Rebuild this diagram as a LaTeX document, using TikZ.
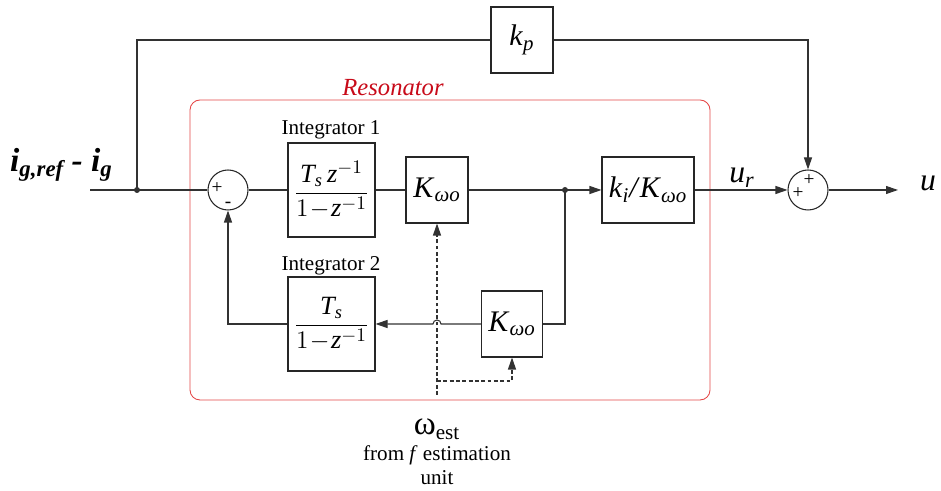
\documentclass[tikz,border=0pt]{standalone}
\usepackage{amsmath}
\usepackage{fontspec}
\setmainfont{Liberation Serif}
\usetikzlibrary{arrows.meta}
\definecolor{resred}{RGB}{200,10,25}
\definecolor{framered}{RGB}{228,70,70}
\definecolor{wire}{RGB}{50,50,50}
\newcommand{\kwo}{\textit{K}\textsubscript{\textit{ωo}}}
\begin{document}
\begin{tikzpicture}[
    line width=0.6pt, draw=wire,
    block/.style={draw=black!85, rectangle, inner sep=0pt, fill=white},
    intblock/.style={block, minimum width=1.74cm, minimum height=1.88cm,
      font=\fontsize{15}{17}\selectfont},
    gainblock/.style={block, minimum height=1.32cm,
      font=\fontsize{17}{19}\selectfont},
    sumnode/.style={draw=black!85, circle, minimum size=0.8cm, inner sep=0pt},
    sgn/.style={font=\fontsize{11}{11}\selectfont, inner sep=0pt},
    tip/.style={-{Triangle[length=2.4mm,width=1.6mm]}},
    westline/.style={dash pattern=on 2.2pt off 1.4pt},
  ]
  \useasboundingbox (0,0) rectangle (18.82,9.82);

  % resonator frame
  \draw[framered, line width=0.5pt, rounded corners=0.2cm]
    (3.80,1.82) rectangle (14.20,7.82);
  \node[resred, font=\fontsize{14}{16}\selectfont\itshape] (res) at (7.86,8.06) {Resonator};

  % blocks
  \coordinate (in) at (1.80,6.02);
  \coordinate (split) at (2.74,6.02);
  \node[sumnode] (sum1) at (4.56,6.02) {};
  \node[sgn] (sum1p) at ([xshift=-0.22cm,yshift=0.04cm]sum1) {+};
  \node[sgn] (sum1m) at ([yshift=-0.30cm]sum1) {-};
  \node[intblock] (int1) at (6.63,6.02)
    {$\dfrac{\textit{T}_{\textit{s}}\,\textit{z}^{-1}}{1\!-\!\textit{z}^{-1}}$};
  \node (int1lbl) at (6.62,7.22) {\fontsize{12}{14}\selectfont Integrator 1};
  \node[gainblock, minimum width=1.24cm] (k1) at (8.74,6.02) {\kwo};
  \coordinate (tap) at (11.30,6.02);
  \node[gainblock, minimum width=1.84cm] (kik) at (12.96,6.02)
    {\textit{k}\textsubscript{\textit{i}}\textit{/}\kwo};
  \node[sumnode] (sum2) at (16.16,6.02) {};
  \node[sgn] (sum2a) at ([xshift=-0.20cm,yshift=-0.06cm]sum2) {+};
  \node[sgn] (sum2b) at ([xshift=0.02cm,yshift=0.20cm]sum2) {+};
  \coordinate (out) at (17.96,6.02);
  \node[gainblock, minimum width=1.24cm] (kp) at (10.44,9.02)
    {\textit{k}\textsubscript{\textit{p}}};
  \node[gainblock, minimum width=1.22cm] (k2) at (10.24,3.34) {\kwo};
  \node[intblock] (int2) at (6.63,3.34)
    {$\dfrac{\textit{T}_{\textit{s}}}{1\!-\!\textit{z}^{-1}}$};
  \node (int2lbl) at (6.62,4.50) {\fontsize{12}{14}\selectfont Integrator 2};
  \coordinate (hop) at (8.74,3.34);
  \coordinate (west) at (8.74,1.92);
  \coordinate (wtap) at (8.74,2.20);

  % signal labels
  \node[font=\fontsize{19}{21}\selectfont\bfseries\itshape, inner sep=0pt] (err) at (1.22,6.52)
    {i{\fontsize{13}{13}\selectfont\raisebox{-0.25em}{g,ref}} - i{\fontsize{13}{13}\selectfont\raisebox{-0.25em}{g}}};
  \node[font=\fontsize{18}{20}\selectfont\itshape] (ur) at (14.84,6.26)
    {u\textsubscript{r}};
  \node[font=\fontsize{18}{20}\selectfont\itshape] (uout) at (18.56,6.16) {u};
  \node[anchor=base] (west1) at (8.74,1.12)
    {\fontsize{19}{20}\selectfont ω\textsubscript{\fontsize{12}{12}\selectfont est}};
  \node[anchor=base, font=\fontsize{12}{14}\selectfont] (west2) at (8.74,0.60)
    {from \textit{f} estimation};
  \node[anchor=base, font=\fontsize{12}{14}\selectfont] (west3) at (8.74,0.12) {unit};

  % forward path
  \draw (in) -- (sum1);
  \draw (sum1) -- (int1);
  \draw (int1) -- (k1);
  \draw (k1) -- (tap);
  \draw[tip] (tap) -- (kik);
  \draw[tip] (kik) -- (sum2);
  \draw[tip] (sum2) -- (out);
  \draw (split) |- (kp);
  \draw[tip] (kp) -| (sum2);

  % feedback loop
  \draw (tap) |- (k2);
  \draw[tip] (k2) -- ([xshift=0.08cm]hop) arc[start angle=0, end angle=180, radius=0.08cm]
    -- (int2);
  \draw[tip] (int2) -| (sum1);

  % frequency input
  \draw[tip, westline] (west) -- (k1);
  \draw[tip, westline] (wtap) -| (k2);

  \fill[wire] (split) circle (0.06);
  \fill[wire] (tap) circle (0.06);
\end{tikzpicture}
\end{document}
